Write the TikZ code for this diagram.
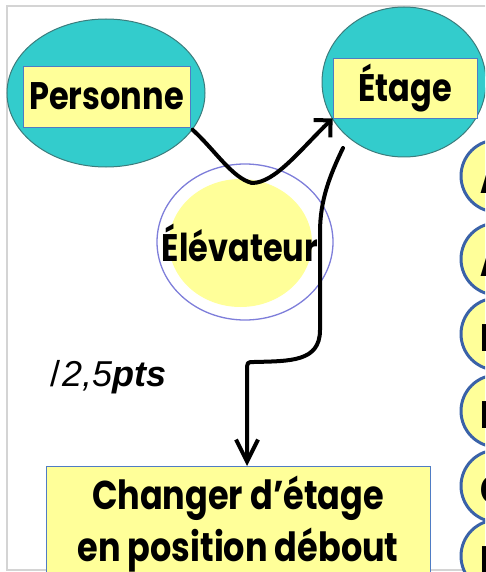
\documentclass[tikz,border=0pt]{standalone}
\usepackage{fontspec}
\usepackage{graphicx}
\setmainfont{Poppins}
\newfontfamily\arialf{Liberation Sans}
\usetikzlibrary{shapes.geometric,arrows.meta}
\definecolor{tealfill}{HTML}{33CCCC}
\definecolor{tealline}{HTML}{3C7C7C}
\definecolor{yel}{HTML}{FFFF99}
\definecolor{boxline}{HTML}{4F7CC4}
\definecolor{lilac}{HTML}{7E7EDA}
\definecolor{ringblue}{HTML}{3A62A8}
\definecolor{framegray}{HTML}{D4D4D4}
\newcommand{\tallword}[1]{\scalebox{1}[1.2]{#1}}
\tikzset{
  comic/.style={font=\fontsize{32}{40}\selectfont\bfseries},
  tealell/.style={ellipse, fill=tealfill, draw=tealline, line width=1pt, inner sep=0pt},
  ybox/.style={rectangle, fill=yel, draw=boxline, line width=0.8pt, inner sep=0pt, comic},
  conn/.style={draw=black, line width=4pt, line cap=round, line join=round},
  ring/.style={circle, fill=yel, draw=ringblue, line width=3pt, minimum size=72pt, inner sep=0pt},
  ringtxt/.style={anchor=west, inner sep=0pt, comic},
}
\begin{document}
\begin{tikzpicture}[x=1pt,y=-1pt]
\useasboundingbox (0,0) rectangle (485,572);
\clip (0,0) rectangle (485,572);
\draw[framegray, line width=1.2pt] (7,6) rectangle (500,570);

% Personne
\node[tealell, minimum width=198pt, minimum height=148pt] (pe) at (106,93) {};
\node[ybox, minimum width=167pt, minimum height=61pt] (pl) at (106.5,96.5) {\tallword{Personne}};

% Etage
\node[tealell, minimum width=164pt, minimum height=150pt] (et) at (404,82) {};
\node[ybox, minimum width=144pt, minimum height=60pt] (el) at (405,88) {\tallword{Étage}};

% Elevateur
\node[ellipse, fill=white, draw=lilac, line width=1.3pt, minimum width=176pt, minimum height=156pt, inner sep=0pt] (eo) at (245,242) {};
\node[ellipse, fill=yel, inner sep=0pt, minimum width=143pt, minimum height=128pt] (ei) at (240.5,243) {};
\node[comic, inner sep=0pt] (elt) at (240,243) {\tallword{Élévateur}};

% Changer box
\node[rectangle, fill=yel, draw=boxline, line width=0.8pt, anchor=north, minimum width=384pt,
  minimum height=116pt, align=center, inner sep=0pt,
  font=\fontsize{33.5}{52}\selectfont\bfseries] (ch) at (238,466) {\tallword{Changer d’étage}\\\tallword{en position débout}};

% score text
\node[anchor=base west, inner sep=0pt, font=\arialf\fontsize{36}{42}\selectfont] (pts) at (50,386) {/\kern2pt\itshape 2,5\bfseries pts};

% right column rings
\foreach \i/\y/\l in {1/176/A, 2/259/A, 3/334/B, 4/411/B, 5/486/C, 6/556/D}{
  \node[ring] (r\i) at (497,\y) {};
  \node[ringtxt] (rt\i) at (480,\y+4) {\tallword{\l}};
}

% connectors
\coordinate (ev) at (252,183);
\draw[conn] (pe.-23) .. controls (215,150) and (232,178) .. (ev);
\draw[conn, -{Straight Barb[length=12pt,width=24pt]}] (ev) .. controls (275,183) and (300,150) .. (el.south west);

\coordinate (s3) at (343,148);
\coordinate (d1) at (247,372);
\draw[conn, -{Straight Barb[length=22pt,width=22pt]}] (s3) .. controls (330,175) and (320,200) .. (320,232)
  -- (320,330) .. controls (320,362) and (290,361) .. (254,362)
  .. controls (247,362) .. (d1) -- (d1 |- ch.north);
\end{tikzpicture}
\end{document}
